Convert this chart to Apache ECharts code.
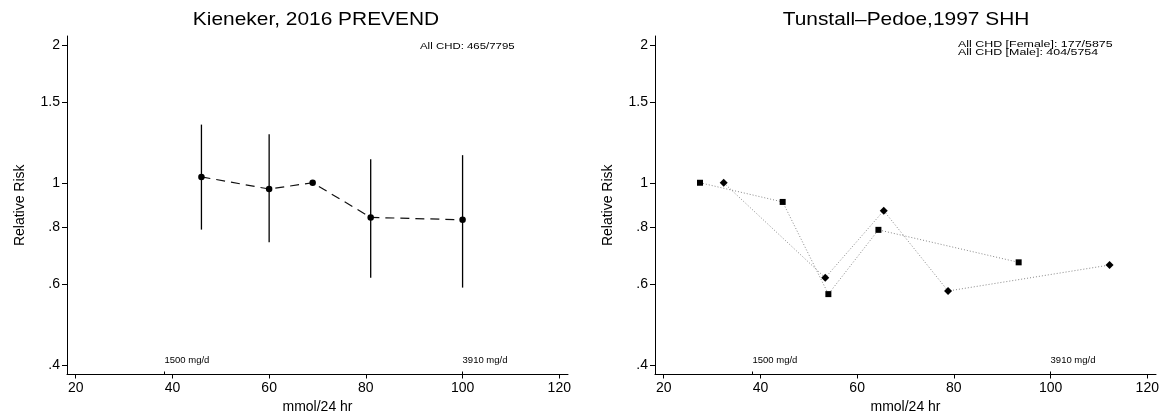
<!DOCTYPE html>
<html><head><meta charset="utf-8">
<script src="https://cdn.jsdelivr.net/npm/echarts@6/dist/echarts.min.js"></script>
<style>html,body{margin:0;padding:0;background:#fff}#c{width:1163px;height:413px}</style>
</head><body><div id="c"></div>
<script>
// ---- data ----
const xTicks = [20, 40, 60, 80, 100, 120];
const yTicks = [0.4, 0.6, 0.8, 1, 1.5, 2];
const mgTickValues = [38.36, 100];
const mgTickLabels = ['1500 mg/d', '3910 mg/d'];
const kienekerX  = [46, 60, 69, 81, 100];
const kienekerRR = [1.03, 0.969, 1.0, 0.84, 0.83];
const kienekerLo = [0.79, 0.741, null, 0.62, 0.59];
const kienekerHi = [1.34, 1.276, null, 1.126, 1.149];
const shhSquareX  = [27.5, 44.6, 54.05, 64.4, 93.4];
const shhSquareRR = [1.0, 0.908, 0.571, 0.789, 0.670];
const shhDiamondX  = [32.4, 53.4, 65.5, 78.8, 112.2];
const shhDiamondRR = [1.0, 0.62, 0.869, 0.58, 0.661];
const panelTitles = ['Kieneker, 2016 PREVEND', 'Tunstall\u2013Pedoe,1997 SHH'];
const notesLeft  = ['All CHD: 465/7795'];
const notesRight = ['All CHD [Female]: 177/5875', 'All CHD [Male]: 404/5754'];
const xAxisTitle = 'mmol/24 hr';
const yAxisTitle = 'Relative Risk';

// ---- chart ----
const FONT = '"Liberation Sans", Arial, Helvetica, sans-serif';
const chart = echarts.init(document.getElementById('c'));
const fmtY = v => { const r = Math.round(v * 10) / 10; return r < 1 ? String(r).replace(/^0/, '') : String(r); };
const txt = (s) => ({ fontSize: s, color: '#000', fontFamily: FONT });

function xAxisMain(i) {
  return { type: 'value', gridIndex: i, min: 18.2, max: 121.8,
    name: xAxisTitle, nameLocation: 'middle', nameGap: 25, nameTextStyle: txt(14),
    axisLine: { show: true, onZero: false, lineStyle: { color: '#000', width: 1 } },
    axisTick: { show: true, length: 4, customValues: xTicks, lineStyle: { color: '#000' } },
    axisLabel: Object.assign({ customValues: xTicks, margin: 7 }, txt(14)),
    splitLine: { show: false } };
}
function xAxisMg(i) {
  return { type: 'value', gridIndex: i, min: 18.2, max: 121.8, position: 'bottom',
    axisLine: { show: false },
    axisTick: { show: true, inside: true, length: 3, customValues: mgTickValues, lineStyle: { color: '#000' } },
    axisLabel: Object.assign({ inside: true, customValues: mgTickValues, align: 'left', margin: 9,
      formatter: v => { const k = mgTickValues.findIndex(t => Math.abs(t - v) < 1e-6); return k >= 0 ? mgTickLabels[k] : ''; } }, txt(9.5)),
    splitLine: { show: false } };
}
function yAxis(i) {
  return { type: 'log', logBase: 10, gridIndex: i, min: 0.381, max: 2.093,
    name: yAxisTitle, nameLocation: 'middle', nameGap: 40, nameTextStyle: txt(14),
    axisLine: { show: true, lineStyle: { color: '#000', width: 1 } },
    axisTick: { show: true, length: 5, customValues: yTicks, lineStyle: { color: '#000' } },
    axisLabel: Object.assign({ customValues: yTicks, margin: 7, formatter: fmtY }, txt(14)),
    minorTick: { show: false }, splitLine: { show: false } };
}

const errData = kienekerX.map((x, k) => [x, kienekerLo[k], kienekerHi[k]]).filter(d => d[1] != null);
const noteStyle = (t) => ({ text: t, fontSize: 9, fontFamily: FONT, fill: '#000', verticalAlign: 'middle' });
const titleStyle = (t) => ({ text: t, fontSize: 19, fontFamily: FONT, fill: '#000', align: 'center', verticalAlign: 'middle' });

chart.setOption({
  animation: false,
  backgroundColor: '#fff',
  grid: [
    { left: 67, right: 1163 - 568, top: 36, bottom: 413 - 374.5, outerBoundsMode: 'none', containLabel: false },
    { left: 655, right: 1163 - 1156, top: 36, bottom: 413 - 374.5, outerBoundsMode: 'none', containLabel: false }
  ],
  xAxis: [xAxisMain(0), xAxisMg(0), xAxisMain(1), xAxisMg(1)],
  yAxis: [yAxis(0), yAxis(1)],
  graphic: [
    { type: 'text', x: 316, y: 19.5, scaleX: 1.1, style: titleStyle(panelTitles[0]) },
    { type: 'text', x: 906, y: 19.5, scaleX: 1.1, style: titleStyle(panelTitles[1]) },
    { type: 'text', x: 420, y: 47, scaleX: 1.27, style: noteStyle(notesLeft[0]) },
    { type: 'text', x: 958, y: 45, scaleX: 1.38, style: noteStyle(notesRight[0]) },
    { type: 'text', x: 958, y: 52.6, scaleX: 1.38, style: noteStyle(notesRight[1]) }
  ],
  series: [
    { type: 'custom', name: 'CI', xAxisIndex: 0, yAxisIndex: 0, data: errData, encode: { x: 0, y: [1, 2] }, z: 1,
      renderItem: (params, api) => {
        const a = api.coord([api.value(0), api.value(1)]);
        const b = api.coord([api.value(0), api.value(2)]);
        return { type: 'line', shape: { x1: a[0], y1: a[1], x2: b[0], y2: b[1] }, style: { stroke: '#000', lineWidth: 1.3 } };
      } },
    { type: 'line', name: 'Kieneker', xAxisIndex: 0, yAxisIndex: 0, z: 3,
      data: kienekerX.map((x, k) => [x, kienekerRR[k]]),
      symbol: 'circle', symbolSize: 6.5, itemStyle: { color: '#000' },
      lineStyle: { color: '#111', width: 1.2, type: [9, 6] } },
    { type: 'line', name: 'SHH squares', xAxisIndex: 2, yAxisIndex: 1, z: 3,
      data: shhSquareX.map((x, k) => [x, shhSquareRR[k]]),
      symbol: 'rect', symbolSize: 6, itemStyle: { color: '#000' },
      lineStyle: { color: '#888', width: 1, type: [1, 2] } },
    { type: 'line', name: 'SHH diamonds', xAxisIndex: 2, yAxisIndex: 1, z: 3,
      data: shhDiamondX.map((x, k) => [x, shhDiamondRR[k]]),
      symbol: 'diamond', symbolSize: 8, itemStyle: { color: '#000' },
      lineStyle: { color: '#888', width: 1, type: [1, 2] } }
  ]
});
</script>
</body></html>
